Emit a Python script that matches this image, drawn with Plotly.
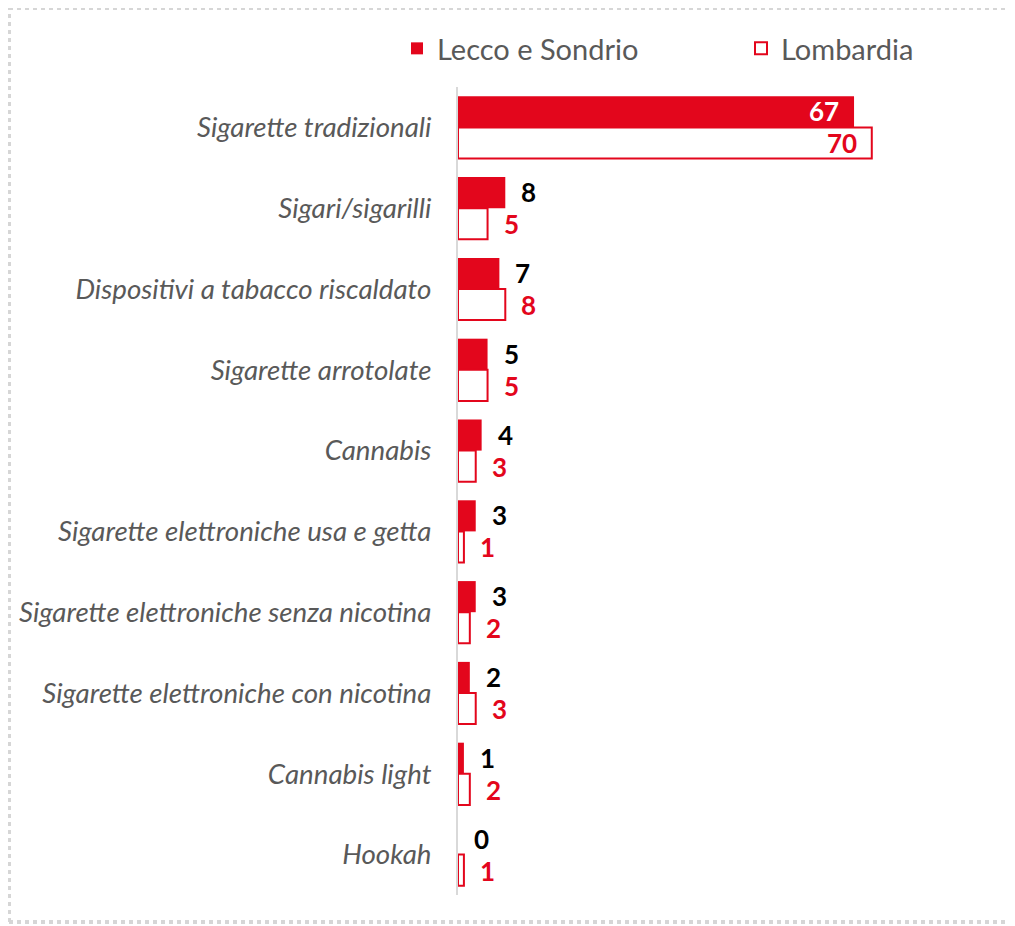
import plotly.graph_objects as go

categories = [
    "Sigarette tradizionali",
    "Sigari/sigarilli",
    "Dispositivi a tabacco riscaldato",
    "Sigarette arrotolate",
    "Cannabis",
    "Sigarette elettroniche usa e getta",
    "Sigarette elettroniche senza nicotina",
    "Sigarette elettroniche con nicotina",
    "Cannabis light",
    "Hookah",
]
lecco_sondrio = [67, 8, 7, 5, 4, 3, 3, 2, 1, 0]
lombardia = [70, 5, 8, 5, 3, 1, 2, 3, 2, 1]

RED = "#E3061C"
FONT = "Lato"

W, H = 1015, 926
L, T = 450, 79
PW, PH = 532, 808
R, B = W - L - PW, H - T - PH

fig = go.Figure()
fig.add_trace(go.Bar(
    y=categories, x=lecco_sondrio, orientation="h", name="Lecco e Sondrio",
    marker=dict(color=RED, line=dict(color=RED, width=0)),
    legend="legend",
))
fig.add_trace(go.Bar(
    y=categories, x=lombardia, orientation="h", name="Lombardia",
    marker=dict(color="white", line=dict(color=RED, width=2)),
    legend="legend2",
))

INSIDE_MIN = 30
for vals, shift, color_out, color_in in [
    (lecco_sondrio, 16, "black", "white"),
    (lombardia, -16, RED, RED),
]:
    for cat, v in zip(categories, vals):
        inside = v >= INSIDE_MIN
        fig.add_annotation(
            x=v, y=cat, xref="x", yref="y",
            text=f"<b>{v}</b>",
            showarrow=False,
            xanchor="right" if inside else "left",
            xshift=-13 if inside else 14,
            yshift=shift,
            font=dict(family=FONT, size=26, color=color_in if inside else color_out),
        )

legend_common = dict(
    orientation="h", xref="container", yref="container",
    xanchor="left", yanchor="top", y=1 - 15 / H,
    font=dict(family=FONT, size=29, color="#595959"),
    bgcolor="rgba(0,0,0,0)",
)

# dotted frame (left, top, bottom edges), in paper units
fx0, fx1 = (1 - L) / PW, (1007 - L) / PW
fy0, fy1 = -(914 - (T + PH)) / PH, 1 + (T - 0) / PH
frame_line = dict(color="#D6D6D6", width=4, dash="4px,4px")
frame = [
    dict(type="line", xref="paper", yref="paper", x0=fx0, x1=fx0, y0=fy0, y1=fy1, line=frame_line, layer="below"),
    dict(type="line", xref="paper", yref="paper", x0=fx0, x1=fx1, y0=fy1, y1=fy1, line=frame_line, layer="below"),
    dict(type="line", xref="paper", yref="paper", x0=fx0, x1=fx1, y0=fy0, y1=fy0, line=frame_line, layer="below"),
]

fig.update_layout(
    width=W, height=H,
    margin=dict(l=L, r=R, t=T, b=B, autoexpand=False),
    paper_bgcolor="white", plot_bgcolor="white",
    barmode="group", bargap=0.23, bargroupgap=0,
    showlegend=True,
    legend=dict(x=389 / W, **legend_common),
    legend2=dict(x=733 / W, **legend_common),
    xaxis=dict(range=[0, 90], visible=False, showgrid=False, zeroline=False),
    yaxis=dict(
        autorange="reversed", showgrid=False, zeroline=False,
        showline=True, linecolor="#D9D9D9", linewidth=2,
        ticks="", ticklabelstandoff=19, automargin=False,
        tickfont=dict(family=FONT, size=27.7, color="#595959", style="italic"),
    ),
    shapes=frame,
)

fig.write_html("out.html")
